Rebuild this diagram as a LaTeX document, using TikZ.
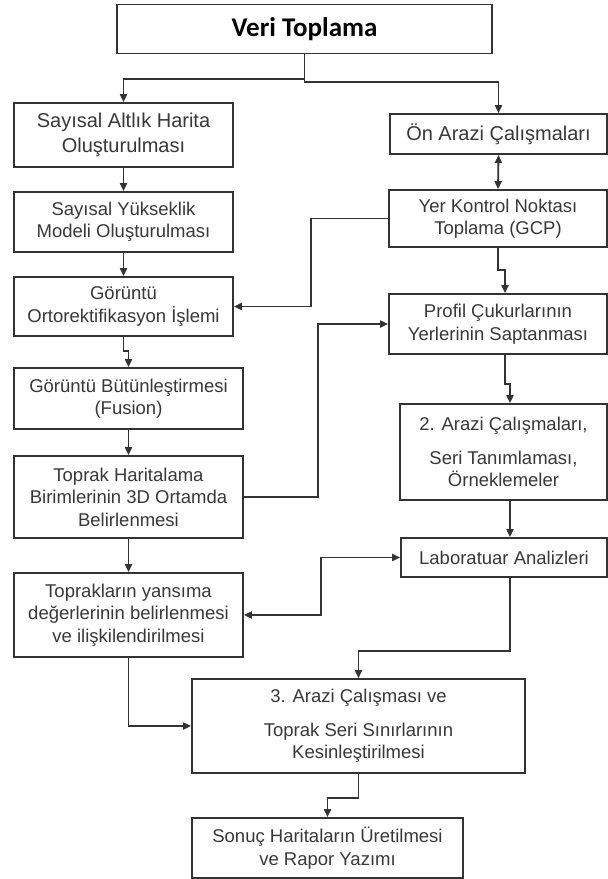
\documentclass[tikz,border=0pt]{standalone}
\usepackage{fontspec}
\setmainfont{Liberation Sans}
\newfontfamily\titlefont{Carlito}
\usepackage{tikz}
\usetikzlibrary{arrows.meta}

\definecolor{linegray}{HTML}{333333}
\definecolor{textgray}{HTML}{383838}

\tikzset{
  box/.style={draw=linegray, line width=1.7pt, inner sep=0pt, align=center,
    text=textgray, font=\fontsize{18.5}{22.5}\selectfont},
  bigtext/.style={font=\fontsize{20}{25}\selectfont}
}

\begin{document}
\begin{tikzpicture}[x=1pt, y=-1pt, >={Triangle[length=8pt, width=7pt]},
    line width=1.8pt, draw=linegray]
   \useasboundingbox (0,0) rectangle (608,879);

   % 定义节点
   \node[box, minimum width=375pt, minimum height=49pt, text=black,
         font=\titlefont\bfseries\fontsize{27}{30}\selectfont] (veri) at (304.5,29) {Veri Toplama};
   \node[box, bigtext, minimum width=219pt, minimum height=64pt] (altlik) at (123.5,135) {Sayısal Altlık Harita\\Oluşturulması};
   \node[box, bigtext, minimum width=217pt, minimum height=40pt] (onarazi) at (498.5,134) {Ön Arazi Çalışmaları};
   \node[box, minimum width=219pt, minimum height=60pt] (yukseklik) at (123.5,222) {Sayısal Yükseklik\\Modeli Oluşturulması};
   \node[box, minimum width=218pt, minimum height=57pt] (gcp) at (498,218.5) {Yer Kontrol Noktası\\Toplama (GCP)};
   \node[box, minimum width=219pt, minimum height=59pt] (orto) at (123.5,306.5) {Görüntü\\Ortorektifikasyon İşlemi};
   \node[box, minimum width=218pt, minimum height=60pt] (profil) at (498,324) {Profil Çukurlarının\\Yerlerinin Saptanması};
   \node[box, minimum width=229pt, minimum height=61pt] (fusion) at (128.5,398.5) {Görüntü Bütünleştirmesi\\(Fusion)};
   \node[box, minimum width=207pt, minimum height=96pt] (arazi2) at (503.5,452) {2. Arazi Çalışmaları,\\[11pt]Seri Tanımlaması,\\Örneklemeler};
   \node[box, minimum width=229pt, minimum height=82pt] (haritalama) at (128.5,497) {Toprak Haritalama\\Birimlerinin 3D Ortamda\\Belirlenmesi};
   \node[box, minimum width=206pt, minimum height=39pt] (lab) at (504,557.5) {Laboratuar Analizleri};
   \node[box, minimum width=229pt, minimum height=84pt] (yansima) at (128.5,615) {Toprakların yansıma\\değerlerinin belirlenmesi\\ve ilişkilendirilmesi};
   \node[box, minimum width=333pt, minimum height=94pt] (arazi3) at (358.5,726) {3. Arazi Çalışması ve\\[11pt]Toprak Seri Sınırlarının\\Kesinleştirilmesi};
   \node[box, minimum width=271pt, minimum height=60pt] (sonuc) at (327.5,848) {Sonuç Haritaların Üretilmesi\\ve Rapor Yazımı};

   % 直线箭头
   \path[->]
   (onarazi.south) edge [<->] (gcp.north)
   (altlik) edge (yukseklik)
   (yukseklik) edge (orto)
   (fusion) edge (haritalama)
   (haritalama) edge (yansima)
   ([xshift=6.5pt]arazi2.south) edge ([xshift=6pt]lab.north);

   % 折线箭头
   \draw[->] (veri.south) -- ++(0,25) -| (altlik.north);
   \draw[->] (veri.south) -- ++(0,28) -| (onarazi.north);
   \draw[->] (gcp.west) -- ++(-77,0) |- (orto.east);
   \draw[->] (orto.south) -- ++(0,14) -| (fusion.north);
   \draw[->] (gcp.south) -- ++(0,22) -| ([xshift=7pt]profil.north);
   \draw[->] ([xshift=7pt]profil.south) -- ++(0,29) -| ([xshift=6.5pt]arazi2.north);
   \draw[->] (haritalama.east) -- ++(74,0) |- (profil.west);
   \draw[<->] (lab.west) -- ++(-79,0) |- (yansima.east);
   \draw[->] ([xshift=6pt]lab.south) -- ++(0,73) -| (arazi3.north);
   \draw[->] (yansima.south) |- (arazi3.west);
   \draw[->] (arazi3.south) -- ++(0,24) -| (sonuc.north);
\end{tikzpicture}
\end{document}
